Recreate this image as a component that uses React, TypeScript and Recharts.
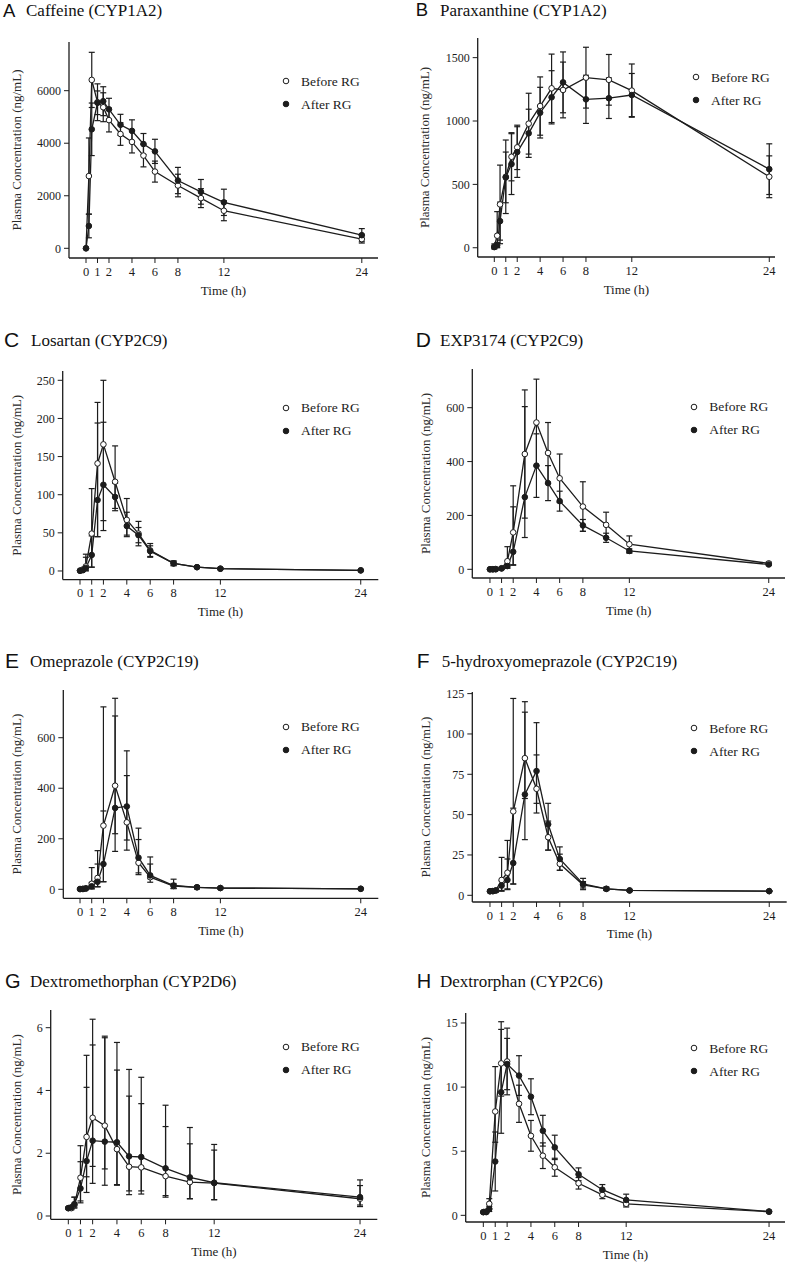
import React from "react";
import { LineChart, Line, XAxis, YAxis, ErrorBar, Legend } from "recharts";

// ── Data ──────────────────────────────────────────────────────────────────────
// Sampling times (h) shared by every panel; errors are SD, or [down, up] when the
// bar looks lopsided in the figure.

type Err = number | [number, number];

const TIMES = [0, 0.25, 0.5, 1, 1.5, 2, 3, 4, 5, 6, 8, 10, 12, 24];
const X_TICKS = [0, 1, 2, 4, 6, 8, 12, 24];

// A — Caffeine
const caffeineBefore = [0, 2750, 6410, 5560, 5370, 4880, 4350, 4050, 3530, 2920, 2390, 1910, 1430, 350];
const caffeineBeforeSd: Err[] = [0, 1450, 1050, 700, 550, 450, 430, 420, 430, 400, 430, 360, 380, 150];
const caffeineAfter = [0, 850, 4530, 5540, 5600, 5290, 4700, 4470, 3970, 3690, 2580, 2150, 1750, 500];
const caffeineAfterSd: Err[] = [0, 450, 1000, 450, 550, 420, 400, 420, 400, 460, 500, 470, 500, 250];

// B — Paraxanthine
const paraxBefore = [10, 95, 342, 560, 718, 792, 979, 1118, 1258, 1245, 1342, 1325, 1240, 560];
const paraxBeforeSd: Err[] = [20, [90, 190], 310, 290, 190, 175, 240, 230, 270, 220, 240, 200, 210, 165];
const paraxAfter = [5, 20, 210, 555, 660, 755, 903, 1066, 1187, 1305, 1171, 1180, 1205, 620];
const paraxAfterSd: Err[] = [5, 20, 150, 200, 240, 200, 190, 200, 210, 240, 190, 160, 170, 200];

// C — Losartan
const losartanBefore = [0.5, 2, 6, 49, 141, 166, 117, 67, 49, 27, 10, 5, 3, 0.8];
const losartanBeforeSd: Err[] = [0.5, 2, [5, 12], [44, 59], [96, 80], [100, 84], [35, 47], [20, 28], 16, 9, 3, 1.5, 1, 0.3];
const losartanAfter = [0.3, 1, 4, 21, 93, 113, 97, 59, 47, 26, 10, 5, 3, 0.8];
const losartanAfterSd: Err[] = [0.3, 1, [4, 18], [16, 25], [48, 101], [60, 82], 18, [14, 18], 10, 7, 3, 1.5, 1, 0.3];

// D — EXP3174
const expBefore = [0, 0, 1, 4, 30, 137, 428, 545, 432, 338, 233, 165, 93, 22];
const expBeforeSd: Err[] = [0, 0, 1, 4, [25, 54], [120, 173], 238, 161, 113, 90, 92, 47, 31, 5];
const expAfter = [0, 0, 0, 3, 12, 65, 268, 385, 320, 253, 163, 117, 68, 18];
const expAfterSd: Err[] = [0, 0, 1, 3, 8, [50, 167], [150, 336], 118, 65, 37, 22, 17, 8, 4];

// E — Omeprazole
const omeBefore = [1, 2, 4, 22, 45, 252, 410, 265, 105, 48, 13, 8, 5, 2];
const omeBeforeSd: Err[] = [1, 2, 5, [20, 64], [35, 108], [222, 470], [260, 346], [110, 185], [47, 92], [20, 52], 10, 6, 3, 1];
const omeAfter = [1, 1, 3, 12, 30, 100, 322, 328, 125, 55, 15, 8, 5, 2];
const omeAfterSd: Err[] = [1, 1, 3, [10, 15], [20, 70], [70, 210], [102, 364], [133, 220], [60, 117], [13, 73], [12, 25], 6, 3, 1];

// F — 5-hydroxyomeprazole
const hydroxyBefore = [2.5, 2.6, 3, 9.5, 14, 52, 85, 66, 36, 19.5, 6.5, 4, 3, 2.6];
const hydroxyBeforeSd: Err[] = [0.3, 0.3, 1, [7, 14], [10, 20], [45, 70], [25, 35], [9, 21], [8, 10], [4, 6], 2, 1, 0.5, 0.3];
const hydroxyAfter = [2.5, 2.6, 3, 6, 9.5, 20, 62.5, 77, 44, 22.5, 7, 4, 3, 2.6];
const hydroxyAfterSd: Err[] = [0.3, 0.3, 1, 3, [6, 13], [13, 34], [28, 51], [26, 30], [16, 13], [7, 7.5], 3.5, 1, 0.5, 0.3];

// G — Dextromethorphan
const dxmBefore = [0.25, 0.25, 0.35, 1.22, 2.52, 3.13, 2.88, 2.13, 1.57, 1.55, 1.27, 1.08, 1.05, 0.55];
const dxmBeforeSd: Err[] = [0.03, 0.05, [0.1, 0.25], [0.8, 1.02], [1.77, 2.6], [2.09, 3.14], [1.9, 2.85], [1.15, 2.52], [0.89, 2.25], [0.85, 2.03], [0.67, 1.58], [0.53, 1.22], [0.53, 1.05], [0.2, 0.42]];
const dxmAfter = [0.25, 0.28, 0.38, 0.88, 1.75, 2.4, 2.37, 2.35, 1.9, 1.88, 1.52, 1.23, 1.06, 0.6];
const dxmAfterSd: Err[] = [0.03, 0.05, [0.1, 0.22], [0.4, 0.85], [0.5, 2.35], [0.82, 3.05], [0.87, 3.31], [1.35, 3.18], [1.1, 2.77], [1.08, 2.54], [0.87, 2.01], [0.68, 1.59], [0.54, 1.22], [0.3, 0.55]];

// H — Dextrorphan
const dxoBefore = [0.25, 0.3, 0.9, 8.1, 11.85, 12.0, 8.7, 6.2, 4.65, 3.75, 2.5, 1.6, 0.9, 0.28];
const dxoBeforeSd: Err[] = [0.05, 0.1, 0.4, [2.4, 3.5], [2.55, 3.25], 2.6, 1.45, 1.2, 1.0, 0.7, 0.45, 0.3, 0.25, 0.08];
const dxoAfter = [0.25, 0.25, 0.5, 4.2, 9.6, 11.8, 10.9, 9.25, 6.6, 5.3, 3.2, 2.0, 1.2, 0.3];
const dxoAfterSd: Err[] = [0.05, 0.05, 0.2, 2.3, [3.2, 4.9], 2.0, 1.55, 1.4, 1.2, 0.95, 0.5, 0.4, 0.45, 0.08];

// ── Panel setup ───────────────────────────────────────────────────────────────

type Series = { before: number[]; beforeSd: Err[]; after: number[]; afterSd: Err[] };

type Panel = {
  letter: string;
  name: string;
  series: Series;
  yTicks: number[];
  xDomain: [number, number];
  yDomain: [number, number];
  // page geometry (px)
  left: number;
  x0: number; // y-axis line
  x1: number; // right end of x-axis
  y0: number; // top of y-axis
  y1: number; // x-axis line
  yLabelX: number;
  legendX: number;
  legendY: number;
  letterPos: [number, number, number];
  namePos: [number, number];
};

const PANELS: Panel[] = [
  {
    letter: "A", name: "Caffeine (CYP1A2)",
    series: { before: caffeineBefore, beforeSd: caffeineBeforeSd, after: caffeineAfter, afterSd: caffeineAfterSd },
    yTicks: [0, 2000, 4000, 6000], xDomain: [-1.48, 25.41], yDomain: [-369, 7853],
    left: 0, x0: 69, x1: 378, y0: 42, y1: 258, yLabelX: 16, legendX: 286, legendY: 81,
    letterPos: [3, 16.5, 18.5], namePos: [26, 16],
  },
  {
    letter: "B", name: "Paraxanthine (CYP1A2)",
    series: { before: paraxBefore, beforeSd: paraxBeforeSd, after: paraxAfter, afterSd: paraxAfterSd },
    yTicks: [0, 500, 1000, 1500], xDomain: [-1.45, 24.5], yDomain: [-73, 1655],
    left: 395, x0: 477.7, x1: 775, y0: 38, y1: 257, yLabelX: 424.3, legendX: 696, legendY: 77,
    letterPos: [415.7, 16, 18.5], namePos: [440, 15.5],
  },
  {
    letter: "C", name: "Losartan (CYP2C9)",
    series: { before: losartanBefore, beforeSd: losartanBeforeSd, after: losartanAfter, afterSd: losartanAfterSd },
    yTicks: [0, 50, 100, 150, 200, 250], xDomain: [-1.48, 25.5], yDomain: [-11.3, 262.2],
    left: 0, x0: 62.7, x1: 378.3, y0: 370.7, y1: 579.3, yLabelX: 16, legendX: 286, legendY: 407.7,
    letterPos: [4, 346.7, 21], namePos: [31, 345.7],
  },
  {
    letter: "D", name: "EXP3174 (CYP2C9)",
    series: { before: expBefore, beforeSd: expBeforeSd, after: expAfter, afterSd: expAfterSd },
    yTicks: [0, 200, 400, 600], xDomain: [-1.52, 25.4], yDomain: [-32.3, 743.7],
    left: 395, x0: 472.3, x1: 785, y0: 369, y1: 578, yLabelX: 425.7, legendX: 694.3, legendY: 406.7,
    letterPos: [415.7, 346.7, 21], namePos: [440, 345.7],
  },
  {
    letter: "E", name: "Omeprazole (CYP2C19)",
    series: { before: omeBefore, beforeSd: omeBeforeSd, after: omeAfter, afterSd: omeAfterSd },
    yTicks: [0, 200, 400, 600], xDomain: [-1.43, 25.5], yDomain: [-35.6, 788.8],
    left: 0, x0: 63.3, x1: 378.3, y0: 690, y1: 898.3, yLabelX: 16, legendX: 286, legendY: 726.7,
    letterPos: [5, 668.3, 21], namePos: [30, 667],
  },
  {
    letter: "F", name: "5-hydroxyomeprazole (CYP2C19)",
    series: { before: hydroxyBefore, beforeSd: hydroxyBeforeSd, after: hydroxyAfter, afterSd: hydroxyAfterSd },
    yTicks: [0, 25, 50, 75, 100, 125], xDomain: [-1.52, 25.5], yDomain: [-4.15, 126],
    left: 395, x0: 472.3, x1: 786.7, y0: 691.7, y1: 901.7, yLabelX: 425.7, legendX: 694.3, legendY: 728.3,
    letterPos: [416.7, 668.3, 21], namePos: [441.7, 667],
  },
  {
    letter: "G", name: "Dextromethorphan (CYP2D6)",
    series: { before: dxmBefore, beforeSd: dxmBeforeSd, after: dxmAfter, afterSd: dxmAfterSd },
    yTicks: [0, 2, 4, 6], xDomain: [-1.45, 25.42], yDomain: [-0.105, 6.564],
    left: 0, x0: 50.7, x1: 377.3, y0: 1010, y1: 1219.3, yLabelX: 16, legendX: 286, legendY: 1046.7,
    letterPos: [5, 988.3, 20], namePos: [30, 987],
  },
  {
    letter: "H", name: "Dextrorphan (CYP2C6)",
    series: { before: dxoBefore, beforeSd: dxoBeforeSd, after: dxoAfter, afterSd: dxoAfterSd },
    yTicks: [0, 5, 10, 15], xDomain: [-1.48, 25.34], yDomain: [-0.52, 15.78],
    left: 395, x0: 465.7, x1: 785, y0: 1012.7, y1: 1221.7, yLabelX: 425, legendX: 694.3, legendY: 1048.3,
    letterPos: [416.7, 988.3, 20], namePos: [440, 987],
  },
];

// ── Styles ────────────────────────────────────────────────────────────────────

const INK = "#1c1c1c";
const SERIF = "Liberation Serif, Tinos, Times New Roman, Times, DejaVu Serif, serif";
const SANS = "Liberation Sans, Arial, sans-serif";
const PAD_TOP = 6;
const PAD_RIGHT = 2;
const X_AXIS_H = 46;
const LEGEND_ORDER = ["before", "after"];

// ── One panel ─────────────────────────────────────────────────────────────────

function PkPanel({ p }: { p: Panel }) {
  const data = TIMES.map((t, i) => ({
    t,
    before: p.series.before[i],
    after: p.series.after[i],
    beforeErr: p.series.beforeSd[i],
    afterErr: p.series.afterSd[i],
  }));

  const top = p.y0 - PAD_TOP;
  const width = p.x1 - p.left + PAD_RIGHT;
  const height = p.y1 - p.y0 + PAD_TOP + X_AXIS_H;
  const plotMidX = p.x0 - p.left + (p.x1 - p.x0) / 2;
  const plotMidY = PAD_TOP + (p.y1 - p.y0) / 2;
  const yLabX = p.yLabelX - p.left;

  const tickStyle = { fill: INK, fontSize: 12, fontFamily: SERIF };

  const renderLegend = (props: any) => {
    const items = [...(props.payload ?? [])].sort(
      (a: any, b: any) => LEGEND_ORDER.indexOf(a.dataKey) - LEGEND_ORDER.indexOf(b.dataKey)
    );
    return (
      <div>
        {items.map((it: any) => (
          <div key={it.dataKey} style={{ display: "flex", alignItems: "center", height: 23 }}>
            <svg width={10} height={10} style={{ display: "block" }}>
              <circle cx={5} cy={5} r={2.8} fill={it.dataKey === "after" ? INK : "#fff"} stroke={INK} strokeWidth={1} />
            </svg>
            <span style={{ marginLeft: 10, fontFamily: SERIF, fontSize: 13.5, color: INK, whiteSpace: "nowrap", lineHeight: "23px" }}>
              {it.value}
            </span>
          </div>
        ))}
      </div>
    );
  };

  return (
    <div style={{ position: "absolute", left: p.left, top }}>
      <LineChart width={width} height={height} data={data} margin={{ top: PAD_TOP, right: PAD_RIGHT, left: 0, bottom: 0 }}>
        <XAxis
          dataKey="t"
          type="number"
          domain={p.xDomain}
          ticks={X_TICKS}
          interval={0}
          allowDataOverflow
          height={X_AXIS_H}
          tick={{ ...tickStyle, fontSize: 12.5 }}
          tickSize={5}
          tickMargin={4}
          tickLine={{ stroke: INK }}
          axisLine={{ stroke: INK, strokeWidth: 1.3 }}
          label={() => (
            <text x={plotMidX} y={PAD_TOP + (p.y1 - p.y0) + 36.5} textAnchor="middle" fontFamily={SERIF} fontSize={13} fill={INK}>
              Time (h)
            </text>
          )}
        />
        <YAxis
          type="number"
          domain={p.yDomain}
          ticks={p.yTicks}
          allowDataOverflow
          width={p.x0 - p.left}
          tick={tickStyle}
          tickSize={5}
          tickMargin={3}
          tickLine={{ stroke: INK }}
          axisLine={{ stroke: INK, strokeWidth: 1.3 }}
          label={() => (
            <text
              x={yLabX}
              y={plotMidY}
              dy="0.35em"
              textAnchor="middle"
              transform={`rotate(-90 ${yLabX} ${plotMidY})`}
              fontFamily={SERIF}
              fontSize={13}
              fill="#2a2a2a"
            >
              Plasma Concentration (ng/mL)
            </text>
          )}
        />
        <Legend
          layout="horizontal"
          align="center"
          verticalAlign="middle"
          content={renderLegend}
          wrapperStyle={{ left: p.legendX - 5 - p.left, top: p.legendY - 11.5 - top, width: "auto", height: "auto" }}
        />
        <Line
          dataKey="before"
          name="Before RG"
          type="linear"
          stroke={INK}
          strokeWidth={1.3}
          dot={{ r: 2.8, fill: "#fff", stroke: INK, strokeWidth: 1 }}
          activeDot={false}
          isAnimationActive={false}
        >
          <ErrorBar dataKey="beforeErr" direction="y" width={3} stroke={INK} strokeWidth={1.2} />
        </Line>
        <Line
          dataKey="after"
          name="After RG"
          type="linear"
          stroke={INK}
          strokeWidth={1.3}
          dot={{ r: 2.8, fill: INK, stroke: INK, strokeWidth: 1 }}
          activeDot={false}
          isAnimationActive={false}
        >
          <ErrorBar dataKey="afterErr" direction="y" width={3} stroke={INK} strokeWidth={1.2} />
        </Line>
      </LineChart>
    </div>
  );
}

// ── Page ──────────────────────────────────────────────────────────────────────

export default function App() {
  return (
    <div style={{ position: "absolute", left: 0, top: 0, width: 789, height: 1262, overflow: "hidden", background: "#fff" }}>
      <svg width={789} height={1262} style={{ position: "absolute", left: 0, top: 0 }}>
        {PANELS.map((p) => (
          <g key={p.letter}>
            <text x={p.letterPos[0]} y={p.letterPos[1]} fontFamily={SANS} fontSize={p.letterPos[2]} fill="#111">
              {p.letter}
            </text>
            <text x={p.namePos[0]} y={p.namePos[1]} fontFamily={SERIF} fontSize={17} fill="#111">
              {p.name}
            </text>
          </g>
        ))}
      </svg>
      {PANELS.map((p) => (
        <PkPanel key={p.letter} p={p} />
      ))}
    </div>
  );
}
